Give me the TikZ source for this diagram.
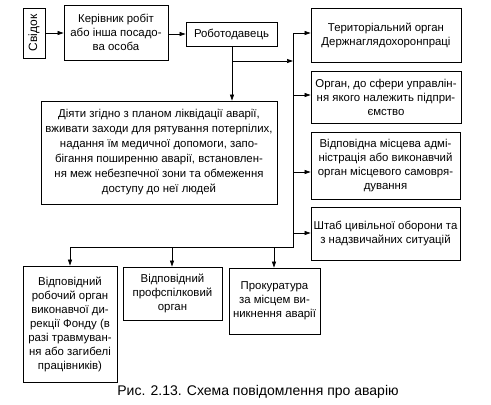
\documentclass[tikz,border=0pt]{standalone}
\usepackage{fontspec}
\setmainfont{Liberation Sans}
\usetikzlibrary{arrows.meta,calc}
\begin{document}
\begin{tikzpicture}[x=1pt,y=-1pt,
  box/.style={draw,line width=0.8pt,align=center,inner sep=0pt,font=\fontsize{11.4}{14}\selectfont},
  conn/.style={line width=0.7pt},
  arr/.style={conn,-{Triangle[length=6pt,width=4pt]}}]
\useasboundingbox (0,0) rectangle (491,405);
% nodes
\node[box,minimum width=22pt,minimum height=50pt] (svid) at (34,33) {};
\node[rotate=90,font=\fontsize{12}{14}\selectfont] (svidt) at (svid.center) {Свідок};
\node[box,minimum width=104pt,minimum height=55pt] (ker) at (116,32.5) {Керівник робіт\\або інша посадо-\\ва особа};
\node[box,minimum width=91pt,minimum height=24pt] (rob) at (231.5,34) {Роботодавець};
\node[box,minimum width=150pt,minimum height=54pt] (ter) at (386,35) {Територіальний орган\\Держнаглядохоронпраці};
\node[box,minimum width=150pt,minimum height=52pt] (org) at (386,97) {Орган, до сфери управлін-\\ня якого належить підпри-\\ємство};
\node[box,minimum width=149pt,minimum height=67pt] (mis) at (385.5,165.5) {Відповідна місцева адмі-\\ністрація або виконавчий\\орган місцевого самовря-\\дування};
\node[box,minimum width=149pt,minimum height=53pt] (sht) at (385.5,233.5) {Штаб цивільної оборони та\\з надзвичайних ситуацій};
\node[box,minimum width=236pt,minimum height=103pt,font=\fontsize{11.4}{15}\selectfont] (diy) at (159,152.5) {Діяти згідно з планом ліквідації аварії,\\вживати заходи для рятування потерпілих,\\надання їм медичної допомоги, запо-\\бігання поширенню аварії, встановлен-\\ня меж небезпечної зони та обмеження\\доступу до неї людей};
\node[box,minimum width=94pt,minimum height=116pt] (fond) at (70,324) {Відповідний\\робочий орган\\виконавчої ди-\\рекції Фонду (в\\разі травмуван-\\ня або загибелі\\працівників)};
\node[box,minimum width=99pt,minimum height=53pt] (prof) at (172.5,293.5) {Відповідний\\профспілковий\\орган};
\node[box,minimum width=91pt,minimum height=66pt] (prok) at (274.5,301) {Прокуратура\\за місцем ви-\\никнення аварії};
\node[font=\fontsize{14}{16}\selectfont] (cap) at (258,392) {Рис. 2.13. Схема повідомлення про аварію};
% coordinates
\coordinate (split) at (232,61);
\coordinate (bustop) at (293,33);
\coordinate (busmid) at (293,61);
\coordinate (busbot) at (293,247);
\coordinate (b1) at (70,247);
\coordinate (b2) at (172,247);
\coordinate (b3) at (274,247);
% connectors
\draw[arr] (svid) -- (ker.west |- svid);
\draw[arr] (ker.east |- rob) -- (rob.west);
\draw[arr] (rob.south -| split) -- (diy.north -| split);
\draw[arr] (split) -- (busmid);
\draw[conn] (bustop) -- (busbot) -- (b1);
\draw[arr] (bustop) -- (ter.west |- bustop);
\draw[arr] (293,95) -- (org.west |- 0,95);
\draw[arr] (293,172) -- (mis.west |- 0,172);
\draw[arr] (293,233) -- (sht.west |- 0,233);
\draw[arr] (b1) -- (fond.north -| b1);
\draw[arr] (b2) -- (prof.north -| b2);
\draw[arr] (b3) -- (prok.north -| b3);
\end{tikzpicture}
\end{document}
